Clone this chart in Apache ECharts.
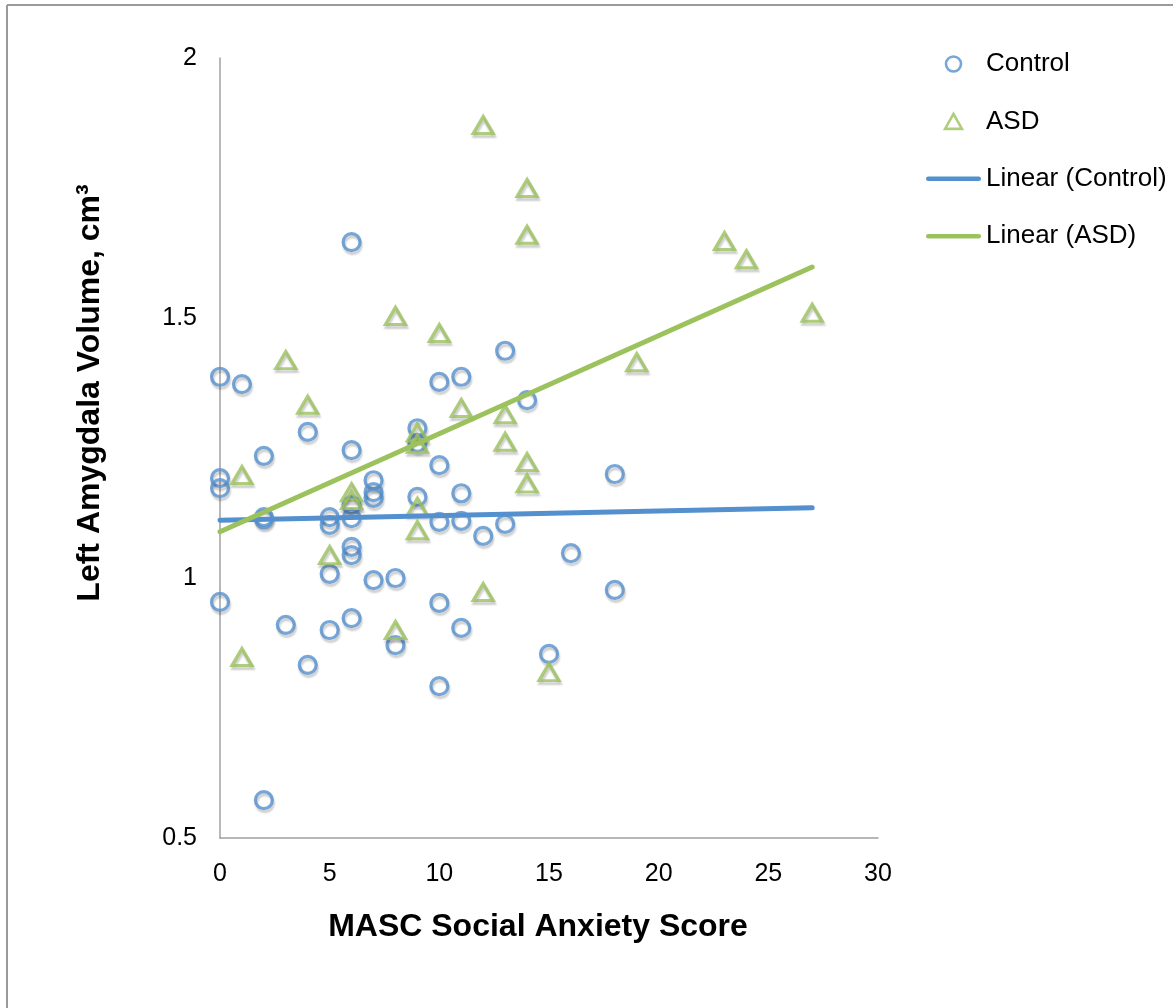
<!DOCTYPE html>
<html>
<head>
<meta charset="utf-8">
<script src="https://cdn.jsdelivr.net/npm/echarts@6/dist/echarts.min.js"></script>
<style>
html,body{margin:0;padding:0;background:#fff;}
#chart{width:1173px;height:1008px;}
</style>
</head>
<body>
<div id="chart"></div>
<script>
// Control group: [MASC score, left amygdala volume]
var controlPoints = [
  [0,1.387],[0,1.192],[0,1.173],[0,0.954],
  [1,1.373],
  [2,1.235],[2,1.117],[2,1.113],[2,0.573],
  [3,0.910],
  [4,1.281],[4,0.833],
  [5,1.117],[5,1.102],[5,1.008],[5,0.900],
  [6,1.646],[6,1.246],[6,1.140],[6,1.115],[6,1.060],[6,1.044],[6,0.923],
  [7,1.188],[7,1.165],[7,1.154],[7,0.996],
  [8,1.000],[8,0.871],
  [9,1.288],[9,1.260],[9,1.156],
  [10,1.377],[10,1.217],[10,1.108],[10,0.952],[10,0.792],
  [11,1.387],[11,1.163],[11,1.110],[11,0.904],
  [12,1.081],
  [13,1.437],[13,1.104],
  [14,1.342],
  [15,0.854],
  [16,1.048],
  [18,1.200],[18,0.977]
];
// ASD group
var asdPoints = [
  [1,1.198],[1,0.848],
  [3,1.419],
  [4,1.333],
  [5,1.044],
  [6,1.165],[6,1.150],
  [8,1.504],[8,0.900],
  [9,1.280],[9,1.258],[9,1.137],[9,1.092],
  [10,1.471],
  [11,1.327],
  [12,1.871],[12,0.973],
  [13,1.315],[13,1.262],
  [14,1.750],[14,1.660],[14,1.223],[14,1.182],
  [15,0.819],
  [19,1.415],
  [23,1.648],
  [24,1.613],
  [27,1.510]
];
// Trend line end points
var controlTrend = [[0,1.111],[27,1.135]];
var asdTrend = [[0,1.089],[27,1.598]];

var seriesNames = ['Control','ASD','Linear (Control)','Linear (ASD)'];
var xTicks = {min:0, max:30, interval:5};
var yTicks = {min:0.5, max:2, interval:0.5};
var xTitle = 'MASC Social Anxiety Score';
var yTitle = 'Left Amygdala Volume, cm\u00B3';

var BLUE = '#5590CE';
var GREEN = '#9BC25C';
var FONT = '"Liberation Sans", Arial, Helvetica, sans-serif';
var BAR_ICON = 'path://M4.5,0 L105.5,0 A4.5,4.5 0 0 1 105.5,9 L4.5,9 A4.5,4.5 0 0 1 4.5,0 Z';
var TRI_ICON = 'path://M9,0 L18,16 L0,16 Z';

var chart = echarts.init(document.getElementById('chart'), null, {renderer:'canvas'});
var markerShadow = {shadowBlur:2, shadowOffsetX:1, shadowOffsetY:3, shadowColor:'rgba(0,0,0,0.25)'};

chart.setOption({
  animation:false,
  backgroundColor:'#fff',
  textStyle:{fontFamily:FONT},
  grid:{left:220, top:58, right:295, bottom:170, containLabel:false},
  legend:{
    orient:'vertical',
    left:921, top:46,
    padding:5,
    itemWidth:55, itemHeight:15,
    itemGap:31.4,
    symbolKeepAspect:true,
    textStyle:{fontSize:26, lineHeight:26, color:'#000', fontFamily:FONT},
    data:[
      {name:seriesNames[0], icon:'circle', itemStyle:{color:'rgba(255,255,255,0)', borderColor:BLUE, borderWidth:2.6, shadowBlur:0, shadowOffsetX:0, shadowOffsetY:0}},
      {name:seriesNames[1], icon:TRI_ICON, itemStyle:{color:'rgba(255,255,255,0)', borderColor:GREEN, borderWidth:2.6, shadowBlur:0, shadowOffsetX:0, shadowOffsetY:0}},
      {name:seriesNames[2], icon:BAR_ICON, itemStyle:{color:BLUE, borderWidth:0}},
      {name:seriesNames[3], icon:BAR_ICON, itemStyle:{color:GREEN, borderWidth:0}}
    ]
  },
  xAxis:{
    type:'value',
    min:xTicks.min, max:xTicks.max, interval:xTicks.interval,
    name:xTitle, nameLocation:'middle', nameGap:73,
    nameTextStyle:{fontSize:32, fontWeight:'bold', color:'#000', fontFamily:FONT, lineHeight:32, padding:[0,22,0,0]},
    axisLine:{show:true, lineStyle:{color:'#A0A0A0', width:1.5}},
    axisTick:{show:false},
    splitLine:{show:false},
    axisLabel:{fontSize:25, color:'#000', margin:24, fontFamily:FONT}
  },
  yAxis:{
    type:'value',
    min:yTicks.min, max:yTicks.max, interval:yTicks.interval,
    axisLine:{show:true, lineStyle:{color:'#A0A0A0', width:1.5}},
    axisTick:{show:false},
    splitLine:{show:false},
    axisLabel:{fontSize:25, color:'#000', margin:23, fontFamily:FONT}
  },
  graphic:[
    {type:'line', shape:{x1:7, y1:5, x2:1173, y2:5}, style:{stroke:'#9A9A9A', lineWidth:2}, silent:true},
    {type:'line', shape:{x1:7, y1:5, x2:7, y2:1008}, style:{stroke:'#9A9A9A', lineWidth:2}, silent:true},
    {type:'text', x:90, y:393, rotation:Math.PI/2,
     style:{text:yTitle, fontSize:32, fontWeight:'bold', fill:'#000', fontFamily:FONT, align:'center', verticalAlign:'middle'},
     silent:true}
  ],
  series:[
    {
      name:seriesNames[0], type:'scatter', data:controlPoints,
      symbol:'circle', symbolSize:17,
      itemStyle:Object.assign({color:'rgba(255,255,255,0)', borderColor:BLUE, borderWidth:3.2}, markerShadow),
      z:3
    },
    {
      name:seriesNames[1], type:'scatter', data:asdPoints,
      symbol:'triangle', symbolSize:[20,17],
      itemStyle:Object.assign({color:'rgba(255,255,255,0)', borderColor:GREEN, borderWidth:3.2}, markerShadow),
      z:3
    },
    {
      name:seriesNames[2], type:'line', data:controlTrend,
      symbol:'none', showSymbol:false,
      itemStyle:{color:BLUE},
      lineStyle:{color:BLUE, width:5, cap:'round'},
      z:4
    },
    {
      name:seriesNames[3], type:'line', data:asdTrend,
      symbol:'none', showSymbol:false,
      itemStyle:{color:GREEN},
      lineStyle:{color:GREEN, width:5, cap:'round'},
      z:4
    }
  ]
});
</script>
</body>
</html>
